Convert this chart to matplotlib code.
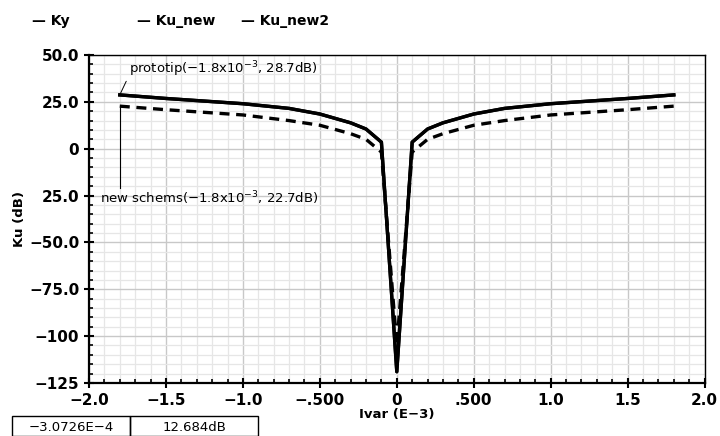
import matplotlib
matplotlib.use("Agg")
import matplotlib.pyplot as plt
from matplotlib.ticker import MultipleLocator, FixedLocator, FixedFormatter
from matplotlib.patches import Rectangle

# Data (Ivar in E-3, gain in dB)
ivar = [-1.8, -1.5, -1.0, -0.7, -0.5, -0.3, -0.2, -0.1, 0.0, 0.1, 0.2, 0.3, 0.5, 0.7, 1.0, 1.5, 1.8]
ky = [28.7, 26.8, 24.0, 21.5, 18.5, 13.8, 10.5, 3.5, -119, 3.5, 10.5, 13.8, 18.5, 21.5, 24.0, 26.8, 28.7]
ku_new = [22.7, 20.8, 18.0, 15.0, 12.5, 8.0, 5.0, -1.8, -105, -1.8, 5.0, 8.0, 12.5, 15.0, 18.0, 20.8, 22.7]
ku_new2 = ky

xticks = [-2.0, -1.5, -1.0, -0.5, 0, 0.5, 1.0, 1.5, 2.0]
xlabels = ["\u22122.0", "\u22121.5", "\u22121.0", "\u2212.500", "0", ".500", "1.0", "1.5", "2.0"]
yticks = [50, 25, 0, -25, -50, -75, -100, -125]
ylabels = ["50.0", "25.0", "0", "25.0", "\u221250.0", "\u221275.0", "\u2212100", "\u2212125"]

fig = plt.figure(figsize=(7.2, 4.36), dpi=100)
ax = fig.add_axes([0.1236, 0.1216, 0.855, 0.7523])

ax.plot(ivar, ky, color="black", lw=2.4, label="Ky")
ax.plot(ivar, ku_new2, color="black", lw=2.4, label="Ku_new2")
ax.plot(ivar, ku_new, color="black", lw=2.4, ls=(0, (3, 2)), label="Ku_new")

ax.set_xlim(-2.0, 2.0)
ax.set_ylim(-125, 50)
ax.xaxis.set_major_locator(FixedLocator(xticks))
ax.xaxis.set_major_formatter(FixedFormatter(xlabels))
ax.xaxis.set_minor_locator(MultipleLocator(0.1))
ax.yaxis.set_major_locator(FixedLocator(yticks))
ax.yaxis.set_major_formatter(FixedFormatter(ylabels))
ax.yaxis.set_minor_locator(MultipleLocator(5))

ax.grid(which="major", color="#c8c8c8", lw=1.0)
ax.grid(which="minor", color="#e6e6e6", lw=0.9)
ax.set_axisbelow(True)

for s in ["left", "bottom"]:
    ax.spines[s].set_linewidth(1.6)
ax.spines["top"].set_linewidth(1.0)
ax.spines["right"].set_linewidth(1.0)

ax.tick_params(which="major", direction="inout", length=7, width=1.5, labelsize=11)
ax.tick_params(which="minor", direction="in", length=3, width=1.2)
ax.tick_params(which="both", top=False, right=False)
for lab in ax.get_xticklabels() + ax.get_yticklabels():
    lab.set_fontweight("bold")

ax.set_xlabel("Ivar (E\u22123)", fontsize=9.5, fontweight="bold", labelpad=0)
ax.set_ylabel("Ku (dB)", fontsize=9.5, fontweight="bold", labelpad=2)

# marker annotations
ax.annotate("prototip(\u22121.8x10$^{-3}$, 28.7dB)", xy=(ivar[0], ky[0]), xytext=(-1.74, 37.0),
            fontsize=9.5, va="bottom", ha="left",
            arrowprops=dict(arrowstyle="-", color="black", lw=0.7, relpos=(0, 0.2),
                            shrinkA=0, shrinkB=0))
ax.plot([ivar[0], ivar[0]], [ku_new[0], -21], color="black", lw=0.8)
ax.text(-1.93, -26.5, "new schems(\u22121.8x10$^{-3}$, 22.7dB)", fontsize=9.5, va="center", ha="left")

# legend at top
for xt, name in [(0.045, "Ky"), (0.19, "Ku_new"), (0.335, "Ku_new2")]:
    fig.text(xt, 0.952, "\u2014 " + name, fontsize=10, fontweight="bold", va="center")

# cursor readout boxes at bottom-left
fig.patches.append(Rectangle((12 / 720, 0), 118 / 720, 20 / 436, transform=fig.transFigure,
                             fill=False, ec="black", lw=1))
fig.patches.append(Rectangle((130 / 720, 0), 128 / 720, 20 / 436, transform=fig.transFigure,
                             fill=False, ec="black", lw=1))
fig.text(71 / 720, 9 / 436, "\u22123.0726E\u22124", fontsize=9.5, ha="center", va="center")
fig.text(194 / 720, 9 / 436, "12.684dB", fontsize=9.5, ha="center", va="center")

fig.savefig("out.png", dpi=100)
